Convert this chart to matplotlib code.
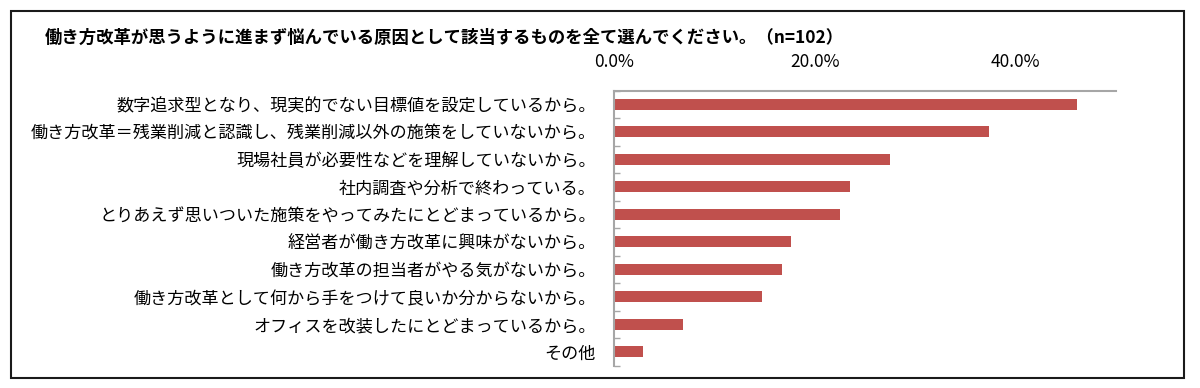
import numpy as np
import matplotlib
matplotlib.use('Agg')
import matplotlib.pyplot as plt
from matplotlib.patches import Rectangle
from matplotlib.ticker import FixedLocator

plt.rcParams['font.family'] = ['Noto Sans CJK JP', 'DejaVu Sans']

title = '働き方改革が思うように進まず悩んでいる原因として該当するものを全て選んでください。（n=102）'
labels = [
    '数字追求型となり、現実的でない目標値を設定しているから。',
    '働き方改革＝残業削減と認識し、残業削減以外の施策をしていないから。',
    '現場社員が必要性などを理解していないから。',
    '社内調査や分析で終わっている。',
    'とりあえず思いついた施策をやってみたにとどまっているから。',
    '経営者が働き方改革に興味がないから。',
    '働き方改革の担当者がやる気がないから。',
    '働き方改革として何から手をつけて良いか分からないから。',
    'オフィスを改装したにとどまっているから。',
    'その他',
]
values = [46.1, 37.3, 27.5, 23.5, 22.5, 17.6, 16.7, 14.7, 6.9, 2.9]
xticks = [0, 20, 40]
xticklabels = ['0.0%', '20.0%', '40.0%']

fig = plt.figure(figsize=(12, 3.88), dpi=100)
ax = fig.add_axes([0.5117, 0.0575, 0.4183, 0.7087])

y = np.arange(len(labels))
ax.barh(y, values, height=0.4, color='#C0504D')
ax.set_xlim(0, 50)
ax.set_ylim(len(labels) - 0.5, -0.5)

ax.set_yticks(y)
ax.set_yticklabels(labels, fontsize=12.3)
ax.yaxis.set_minor_locator(FixedLocator(np.arange(len(labels) + 1) - 0.5))
ax.tick_params(axis='y', which='major', length=0, pad=13)
ax.tick_params(axis='y', which='minor', direction='in', length=4.3, color='#A6A6A6', width=1)

ax.xaxis.tick_top()
ax.set_xticks(xticks)
ax.set_xticklabels(xticklabels, fontsize=12.5)
ax.tick_params(axis='x', length=0, pad=14)

for s in ['right', 'bottom']:
    ax.spines[s].set_visible(False)
for s in ['top', 'left']:
    ax.spines[s].set_color('#A6A6A6')
    ax.spines[s].set_linewidth(1.5)

fig.text(45 / 1200, 1 - 38 / 388, title, fontsize=12.5, fontweight='bold',
         ha='left', va='center')

fig.patches.append(Rectangle((10.5 / 1200, 1 - 378 / 388), (1184 - 10.5) / 1200, (378 - 11) / 388,
                             transform=fig.transFigure, fill=False, edgecolor='#1a1a1a', linewidth=1.5))

fig.savefig('out.png', dpi=100)
